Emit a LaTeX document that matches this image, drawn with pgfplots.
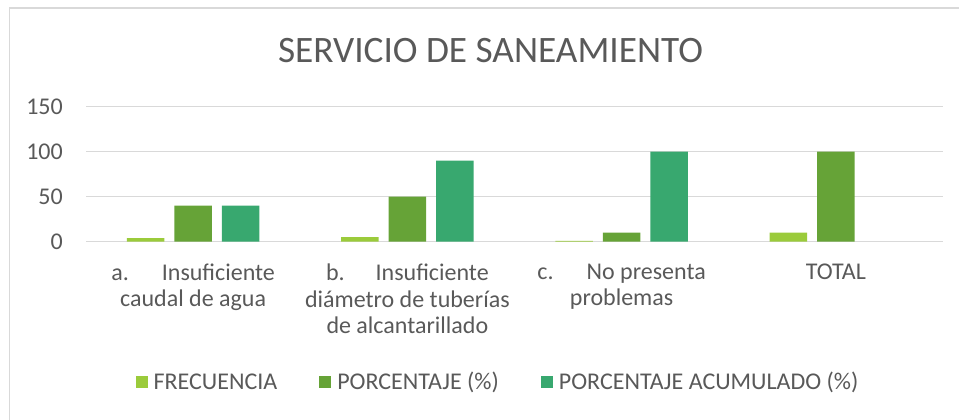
\documentclass[border=0pt]{standalone}
\usepackage{fontspec}
\setmainfont{Carlito}
\usepackage{pgfplots}
\pgfplotsset{compat=1.18}
\definecolor{txt}{HTML}{595959}
\definecolor{gridc}{HTML}{D9D9D9}
\definecolor{cFre}{HTML}{9BCB3B}
\definecolor{cPor}{HTML}{66A337}
\definecolor{cAcu}{HTML}{38A86F}
\begin{document}
\begin{tikzpicture}[x=1pt,y=1pt]
\useasboundingbox (0,0) rectangle (959,420);
\draw[gridc, line width=1.5pt] (9.5,-5) -- (9.5,411.8) -- (970,411.8);
\node[anchor=base, text=txt, font=\fontsize{37.3}{44}\selectfont, inner sep=0pt] at (490.5,357) {SERVICIO DE SANEAMIENTO};
\begin{axis}[
  at={(86pt,178.3pt)}, anchor=south west,
  width=857pt, height=135pt, scale only axis,
  ymin=0, ymax=150, ytick={0,50,100,150},
  xmin=-0.5, xmax=3.5, xtick={0,1,2,3},
  xticklabels={{a.\hspace{33pt}Insuficiente\\caudal de agua},
               {b.\hspace{31pt}Insuficiente\\diámetro de tuberías\\de alcantarillado},
               {c.\hspace{33pt}No presenta\\problemas},
               {TOTAL}},
  ybar=10pt, bar width=37.5pt,
  axis line style={draw=none},
  major tick length=0pt,
  ymajorgrids, grid style={gridc, line width=1.3pt},
  /pgf/number format/assume math mode=true,
  yticklabel style={text=txt, font=\fontsize{24}{28}\selectfont, anchor=east, inner sep=0pt, xshift=-23pt},
  xticklabel style={text=txt, font=\fontsize{24}{26.5}\selectfont, align=center, anchor=north, inner sep=0pt, yshift=-22pt},
  legend style={at={(0.4796,-1.039)}, anchor=center, draw=none, legend columns=3,
    font=\fontsize{24}{28}\selectfont, text=txt, nodes={inner xsep=0pt},
    /tikz/every odd column/.append style={column sep=6pt},
    /tikz/every even column/.append style={column sep=42pt}},
  legend image code/.code={\fill[#1] (0pt,-6pt) rectangle (12pt,6pt);},
]
\addplot[fill=cFre, draw=none] coordinates {(0,4) (1,5) (2,1) (3,10)};
\addplot[fill=cPor, draw=none] coordinates {(0,40) (1,50) (2,10) (3,100)};
\addplot[fill=cAcu, draw=none] coordinates {(0,40) (1,90) (2,100)};
\legend{FRECUENCIA, PORCENTAJE (\%), PORCENTAJE ACUMULADO (\%)}
\end{axis}
\end{tikzpicture}
\end{document}
